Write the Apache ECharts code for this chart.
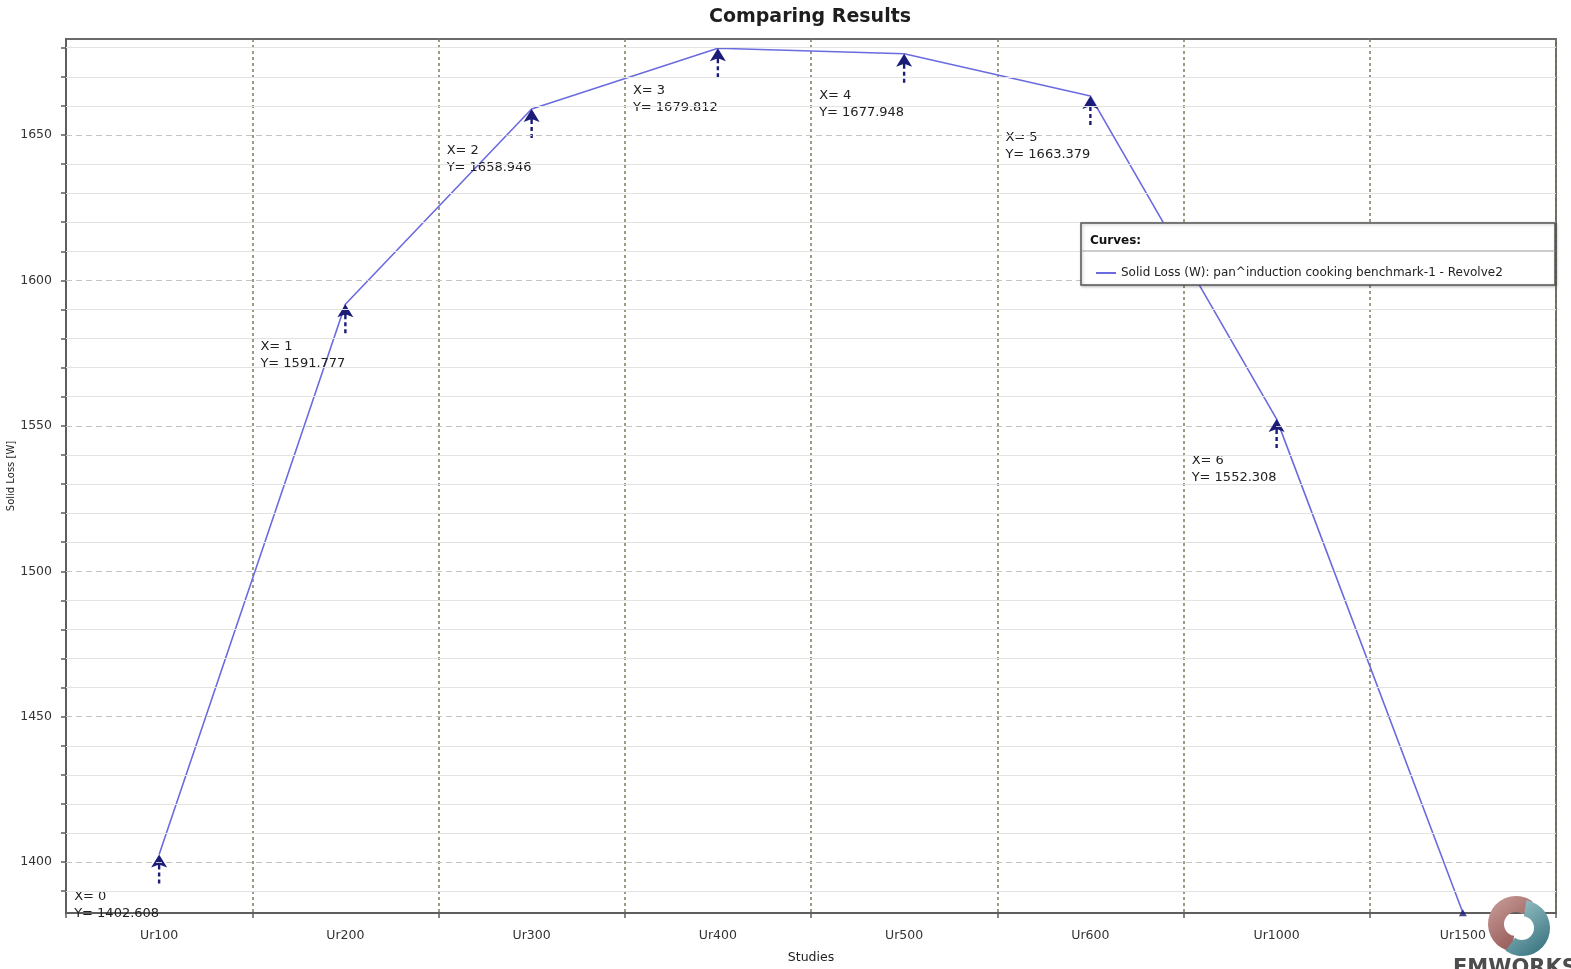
<!DOCTYPE html>
<html>
<head>
<meta charset="utf-8">
<title>Comparing Results</title>
<script src="https://cdn.jsdelivr.net/npm/echarts@6/dist/echarts.min.js"></script>
<style>
  html, body { margin: 0; padding: 0; background: #ffffff; }
  #chart { width: 1571px; height: 969px; }
</style>
</head>
<body>
<div id="chart"></div>
<script>
// Studies along the x axis
const studies = ['Ur100', 'Ur200', 'Ur300', 'Ur400', 'Ur500', 'Ur600', 'Ur1000', 'Ur1500'];
// Solid loss per study, in watts
const solidLoss = [1402.608, 1591.777, 1658.946, 1679.812, 1677.948, 1663.379, 1552.308, 1382.6];
// Number of points that carry an X/Y annotation
const annotatedCount = 7;
// Value axis range and tick values
const yRange = [1382.5, 1683];
const yMajorTicks = [1400, 1450, 1500, 1550, 1600, 1650];
const yMinorTicks = [1390, 1400, 1410, 1420, 1430, 1440, 1450, 1460, 1470, 1480, 1490, 1500,
  1510, 1520, 1530, 1540, 1550, 1560, 1570, 1580, 1590, 1600, 1610, 1620, 1630, 1640, 1650,
  1660, 1670, 1680];

const seriesName = 'Solid Loss (W): pan^induction cooking benchmark-1 - Revolve2';
const FONT = '"DejaVu Sans", Verdana, sans-serif';

// Up-pointing arrow with a dashed stem (tip at the top of the box)
const arrowPath = 'path://M8,0 L16,13 L8,10 L0,13 Z M6.8,10 L9.2,10 L9.2,15 L6.8,15 Z M6.8,18 L9.2,18 L9.2,22 L6.8,22 Z M6.8,25 L9.2,25 L9.2,29 L6.8,29 Z';

const gridLines = [];
yMinorTicks.forEach(v => {
  if (yMajorTicks.indexOf(v) < 0) {
    gridLines.push({ yAxis: v, lineStyle: { color: '#e3e3e3', width: 1, type: 'solid' } });
  }
});
yMajorTicks.forEach(v => {
  gridLines.push({ yAxis: v, lineStyle: { color: '#c4c4c4', width: 1.2, type: [6, 4] } });
});

const pointData = solidLoss.map((v, i) => [i, v]);
const arrowData = pointData.slice(0, annotatedCount);
const endData = pointData.slice(annotatedCount);

const chart = echarts.init(document.getElementById('chart'), null, { renderer: 'canvas' });

chart.setOption({
  animation: false,
  backgroundColor: '#ffffff',
  textStyle: { fontFamily: FONT },
  grid: {
    left: 66, top: 39, right: 15, bottom: 56,
    containLabel: false,
    outerBoundsMode: 'none',
    show: true, borderColor: '#6a6a6a', borderWidth: 2, backgroundColor: 'transparent'
  },
  legend: {
    left: 1091, top: 262, z: 120,
    icon: 'rect', itemWidth: 20, itemHeight: 2,
    textStyle: { fontFamily: FONT, fontSize: 12, color: '#222' },
    data: [seriesName]
  },
  xAxis: {
    type: 'category',
    data: studies,
    boundaryGap: true,
    name: 'Studies',
    nameLocation: 'middle',
    nameGap: 38,
    nameMoveOverlap: false,
    nameTextStyle: { fontFamily: FONT, fontSize: 12.5, color: '#222' },
    axisLine: { show: true, lineStyle: { color: '#5e5e5e', width: 2 } },
    axisTick: { show: true, inside: false, length: 5, lineStyle: { color: '#5e5e5e', width: 1.5 } },
    axisLabel: { fontFamily: FONT, fontSize: 12.5, color: '#333', margin: 16 },
    splitLine: { show: true, lineStyle: { color: '#7c7c5c', width: 1.5, type: [3, 3] } }
  },
  yAxis: {
    type: 'value',
    min: yRange[0],
    max: yRange[1],
    name: 'Solid Loss [W]',
    nameLocation: 'middle',
    nameGap: 50,
    nameMoveOverlap: false,
    nameRotate: 90,
    nameTextStyle: { fontFamily: FONT, fontSize: 10, color: '#222' },
    axisLine: { show: true, lineStyle: { color: '#5e5e5e', width: 2 } },
    axisTick: { show: true, inside: false, length: 5, customValues: yMinorTicks,
      lineStyle: { color: '#5e5e5e', width: 1.5 } },
    axisLabel: { fontFamily: FONT, fontSize: 12.5, color: '#333', margin: 14,
      customValues: yMajorTicks, formatter: v => String(v) },
    splitLine: { show: false }
  },
  graphic: [
    {
      type: 'text', z: 100,
      style: { x: 810, y: 17, text: 'Comparing Results', align: 'center', verticalAlign: 'middle',
        font: 'bold 19px ' + FONT, fill: '#1e1e1e' }
    },
    {
      type: 'rect', z: 100,
      shape: { x: 1081, y: 223, width: 474, height: 62 },
      style: { fill: '#ffffff', stroke: '#555555', lineWidth: 1.5,
        shadowBlur: 3, shadowColor: 'rgba(0,0,0,0.25)', shadowOffsetX: 1, shadowOffsetY: 1 }
    },
    {
      type: 'line', z: 101,
      shape: { x1: 1081, y1: 251, x2: 1555, y2: 251 },
      style: { stroke: '#9a9a9a', lineWidth: 1 }
    },
    {
      type: 'text', z: 101,
      style: { x: 1090, y: 241, text: 'Curves:', verticalAlign: 'middle',
        font: 'bold 12px ' + FONT, fill: '#111' }
    },
    // EMWORKS mark: two swooshes forming an S
    {
      type: 'sector', z: 100,
      shape: { cx: 1516, cy: 924, r: 28, r0: 12, startAngle: Math.PI * 0.55, endAngle: Math.PI * 1.7 },
      style: {
        fill: new echarts.graphic.LinearGradient(0, 0, 1, 1, [
          { offset: 0, color: '#caa09c' }, { offset: 1, color: '#8a4a47' }
        ])
      }
    },
    {
      type: 'sector', z: 100,
      shape: { cx: 1522, cy: 928, r: 28, r0: 12, startAngle: Math.PI * 1.55, endAngle: Math.PI * 2.7 },
      style: {
        fill: new echarts.graphic.LinearGradient(0, 0, 1, 1, [
          { offset: 0, color: '#a5cbcf' }, { offset: 1, color: '#2d6b78' }
        ])
      }
    },
    {
      type: 'text', z: 100,
      style: { x: 1453, y: 958, text: 'EMWORKS', verticalAlign: 'top',
        font: 'bold 21px ' + FONT, fill: '#4d4d4d' }
    }
  ],
  series: [
    {
      // horizontal grid: light minor lines every 10 W, dashed major lines every 50 W
      type: 'line',
      data: [],
      z: 1,
      silent: true,
      markLine: {
        silent: true,
        symbol: 'none',
        label: { show: false },
        animation: false,
        data: gridLines
      }
    },
    {
      name: seriesName,
      type: 'line',
      data: solidLoss,
      z: 3,
      showSymbol: false,
      symbol: 'none',
      color: '#6b6be0',
      lineStyle: { color: '#6b6be0', width: 1.6 }
    },
    {
      type: 'scatter',
      data: arrowData,
      z: 4,
      symbol: arrowPath,
      symbolSize: [16, 29],
      symbolOffset: [0, 14.5],
      itemStyle: { color: '#1b1b78', opacity: 1 },
      label: {
        show: true,
        position: 'inside',
        align: 'left',
        verticalAlign: 'top',
        offset: [-85, 19],
        lineHeight: 17,
        fontFamily: FONT,
        fontSize: 13,
        color: '#222',
        formatter: p => 'X= ' + p.dataIndex + '\nY= ' + p.value[1].toFixed(3)
      },
      silent: true
    },
    {
      type: 'scatter',
      data: endData,
      z: 4,
      symbol: 'triangle',
      symbolSize: [8, 7],
      itemStyle: { color: '#1b1b78' },
      silent: true
    }
  ]
});
</script>
</body>
</html>
